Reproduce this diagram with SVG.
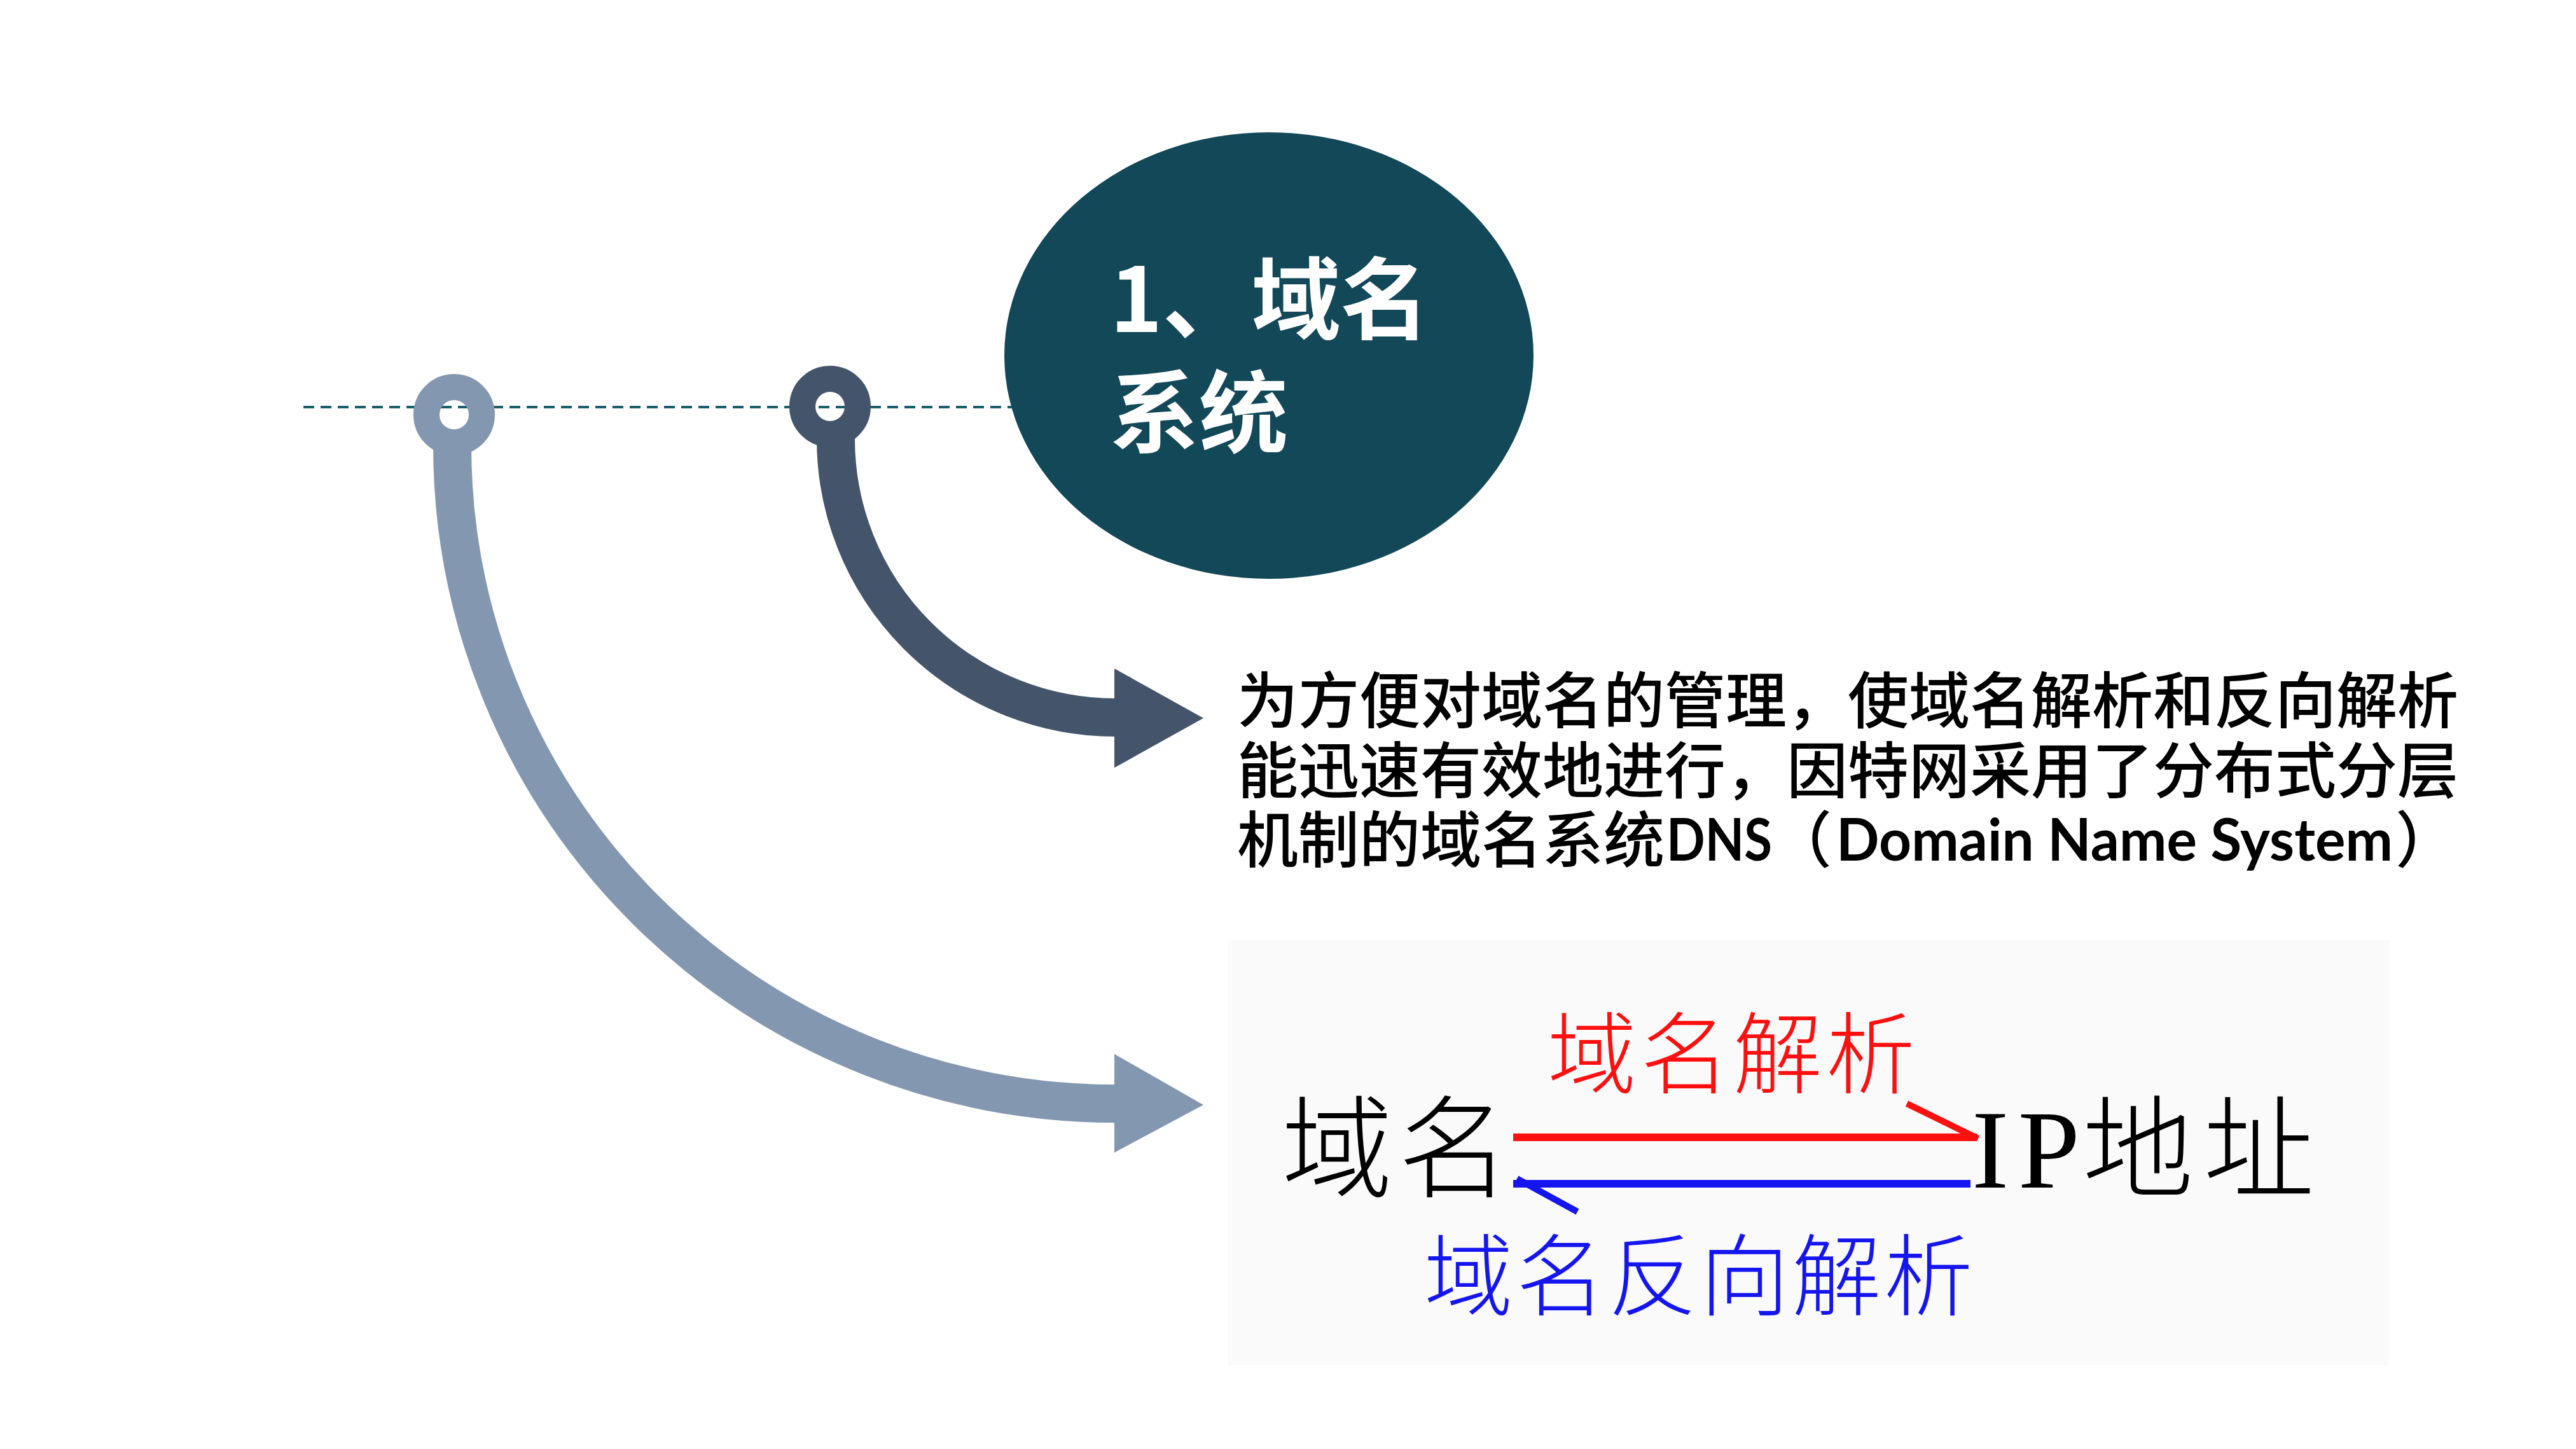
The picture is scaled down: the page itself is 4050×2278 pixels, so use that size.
<svg xmlns="http://www.w3.org/2000/svg" width="4050" height="2278" viewBox="0 0 4050 2278">
<style>
.para{font-family:"Noto Sans CJK SC",sans-serif;font-size:96px;fill:#000;font-weight:500}
.lat{font-family:Lato,"Liberation Sans",sans-serif;font-weight:bold;font-size:92px}
.title{font-family:"Noto Sans CJK SC",sans-serif;font-weight:bold;font-size:140px;fill:#fff}
.pic{font-family:"Liberation Serif","Noto Sans CJK SC",serif;font-weight:300}
.conn{fill:none;stroke-width:60}
.ring{fill:none;stroke-width:41}
</style>
<rect x="0" y="0" width="4050" height="2278" fill="#fff"/>
<line x1="477" y1="640" x2="1600" y2="640" stroke="#1B5E6B" stroke-width="4" stroke-dasharray="17 10"/>
<g id="connectors">
  <path class="conn" stroke="#8497B0" d="M711,700 A1043,1035 0 0 0 1754,1735"/>
  <polygon fill="#8497B0" points="1752,1657 1892,1737 1752,1812"/>
  <path class="conn" stroke="#44546A" d="M1314,690 A440,438 0 0 0 1754,1128"/>
  <polygon fill="#44546A" points="1752,1051 1892,1129 1752,1207"/>
</g>
<g id="ring-light">
  <circle class="ring" stroke="#8497B0" cx="714" cy="652" r="43.5"/>
</g>
<g id="ring-dark">
  <circle class="ring" stroke="#44546A" cx="1305" cy="639" r="43.5"/>
</g>
<g id="title">
  <ellipse cx="1995" cy="559" rx="416" ry="351" fill="#134858"/>
  <text class="title"><tspan x="1745" y="522">1、域名</tspan><tspan x="1745" y="700">系统</tspan></text>
</g>
<g id="description">
  <text class="para"><tspan x="1945" y="1136">为方便对域名的管理，使域名解析和反向解析</tspan><tspan x="1945" y="1246">能迅速有效地进行，因特网采用了分布式分层</tspan><tspan x="1945" y="1355">机制的域名系统</tspan><tspan class="lat" x="2620" y="1353" textLength="166" lengthAdjust="spacingAndGlyphs">DNS</tspan><tspan x="2784" y="1355">（</tspan><tspan class="lat" x="2887" y="1353" textLength="875" lengthAdjust="spacingAndGlyphs">Domain Name System</tspan><tspan x="3766" y="1355">）</tspan></text>
</g>
<g id="picture">
  <rect x="1930" y="1478" width="1826" height="668" fill="#FAFAFA"/>
  <text class="pic"><tspan x="2433" y="1708" font-size="140" fill="#FF1010" textLength="578">域名解析</tspan><tspan x="2015" y="1869" font-size="175" fill="#000" textLength="358">域名</tspan><tspan x="3100" y="1867" font-size="175" fill="#000" textLength="170">IP</tspan><tspan x="3274" y="1869" font-size="175" fill="#000" textLength="365">地址</tspan><tspan x="2239" y="2057" font-size="140" fill="#1515F0" textLength="863">域名反向解析</tspan></text>
  <g id="picture-arrows">
    <line x1="2379" y1="1788" x2="3108" y2="1788" stroke="#FF1010" stroke-width="12"/>
    <line x1="2998" y1="1735" x2="3110" y2="1790" stroke="#FF1010" stroke-width="10"/>
    <line x1="2379" y1="1861" x2="3098" y2="1861" stroke="#1515F0" stroke-width="12"/>
    <line x1="2385" y1="1853" x2="2480" y2="1905" stroke="#1515F0" stroke-width="10"/>
  </g>
</g>
</svg>
